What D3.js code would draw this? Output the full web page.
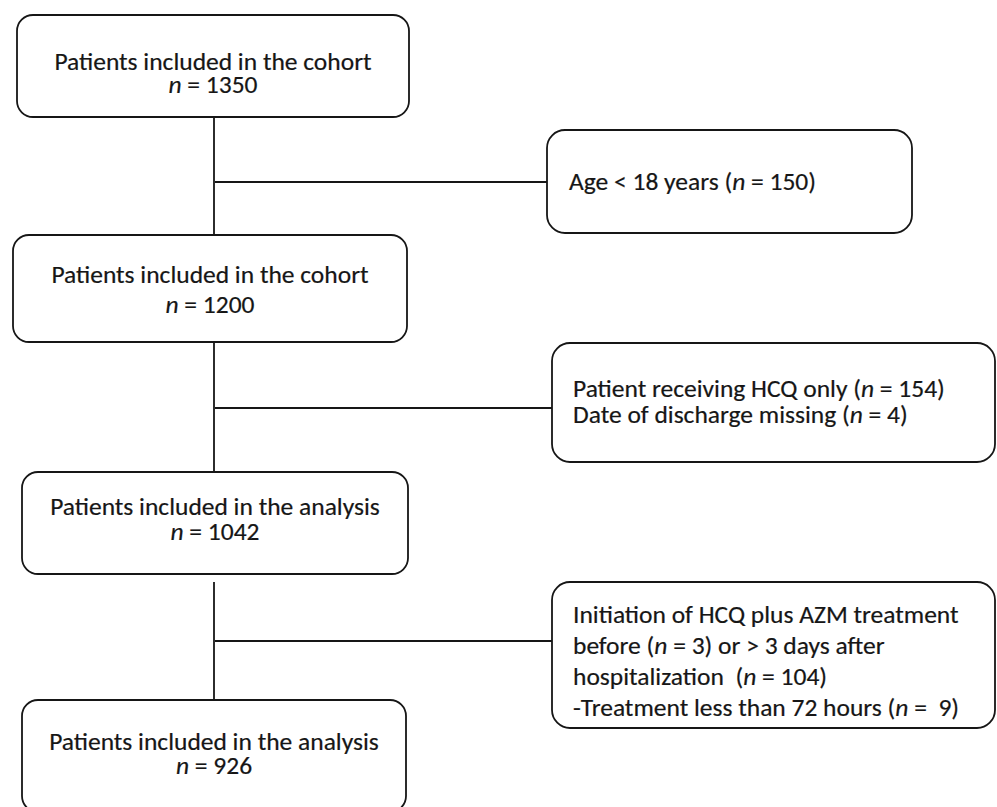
<!DOCTYPE html>
<html>
<head>
<meta charset="utf-8">
<script src="https://cdn.jsdelivr.net/npm/d3@7"></script>
<style>
  html, body { margin: 0; padding: 0; background: #ffffff; }
  svg text { white-space: pre; }
</style>
</head>
<body>
<svg id="chart" width="997" height="807"></svg>
<script>
// ---- data ----
const mainTitles = [
  "Patients included in the cohort",
  "Patients included in the cohort",
  "Patients included in the analysis",
  "Patients included in the analysis"
];
const mainCounts = [1350, 1200, 1042, 926];
const exclusionA = ["Age < 18 years (*n* = 150)"];
const exclusionB = ["Patient receiving HCQ only (*n* = 154)", "Date of discharge missing (*n* = 4)"];
const exclusionC = [
  "Initiation of HCQ plus AZM treatment",
  "before (*n* = 3) or > 3 days after",
  "hospitalization  (*n* = 104)",
  "-Treatment less than 72 hours (*n* =  9)"
];
const exclusions = [exclusionA, exclusionB, exclusionC];

// ---- layout (positions / sizes / styles) ----
const FONT = "Carlito, Calibri, Lato, 'Open Sans', sans-serif";
const FS = 25.5;
const INK = "#161616";
const mainLayout = [
  {x0: 17, x1: 409, y0: 15,  y1: 117, b1: 70,  b2: 93},
  {x0: 13, x1: 407, y0: 235, y1: 342, b1: 283, b2: 313},
  {x0: 22, x1: 408, y0: 472, y1: 574, b1: 515, b2: 540},
  {x0: 22, x1: 406, y0: 700, y1: 812, b1: 750, b2: 774}
];
const exLayout = [
  {x0: 547, x1: 912, y0: 130, y1: 233, tx: 569, base: 190, lh: 26, cy: 182},
  {x0: 552, x1: 995, y0: 343, y1: 462, tx: 573, base: 397, lh: 26, cy: 408},
  {x0: 552, x1: 995, y0: 582, y1: 728, tx: 573, base: 623, lh: 31, cy: 641}
];
const spineX = 214;

const svg = d3.select("#chart");
const g = svg.append("g");

// connectors
const vSegs = [
  {y0: mainLayout[0].y1, y1: mainLayout[1].y0},
  {y0: mainLayout[1].y1, y1: mainLayout[2].y0},
  {y0: mainLayout[2].y1 + 8, y1: mainLayout[3].y0}
];
g.selectAll("line.v").data(vSegs).join("line")
  .attr("class", "v")
  .attr("x1", spineX).attr("x2", spineX)
  .attr("y1", d => d.y0).attr("y2", d => d.y1)
  .attr("stroke", INK).attr("stroke-width", 1.8);

g.selectAll("line.h").data(exLayout).join("line")
  .attr("class", "h")
  .attr("x1", spineX + 1).attr("x2", d => d.x0)
  .attr("y1", d => d.cy).attr("y2", d => d.cy)
  .attr("stroke", INK).attr("stroke-width", 1.8);

// helper: one line (tspan) with *italic* segments
function richLine(textSel, str, x, y, anchor) {
  const line = textSel.append("tspan").attr("x", x).attr("y", y).attr("text-anchor", anchor);
  str.split("*").forEach((p, i) => {
    if (p === "") return;
    line.append("tspan").text(p).attr("font-style", i % 2 === 1 ? "italic" : "normal");
  });
}

function styledText(parent) {
  return parent.append("text")
    .attr("font-family", FONT).attr("font-size", FS).attr("fill", INK)
    .attr("stroke", INK).attr("stroke-width", 0.2);
}

// main boxes
const mains = mainTitles.map((t, i) => ({title: t, count: mainCounts[i], L: mainLayout[i]}));
const mg = g.selectAll("g.main").data(mains).join("g").attr("class", "main");
mg.append("rect")
  .attr("x", d => d.L.x0).attr("y", d => d.L.y0)
  .attr("width", d => d.L.x1 - d.L.x0).attr("height", d => d.L.y1 - d.L.y0)
  .attr("rx", 16).attr("ry", 16)
  .attr("fill", "#fff").attr("stroke", INK).attr("stroke-width", 1.8);
mg.each(function(d) {
  const cx = (d.L.x0 + d.L.x1) / 2;
  const t = styledText(d3.select(this)).attr("text-anchor", "middle");
  richLine(t, d.title, cx, d.L.b1, "middle");
  richLine(t, "*n* = " + d.count, cx, d.L.b2, "middle");
});

// exclusion boxes
const exs = exclusions.map((lines, i) => ({lines, L: exLayout[i]}));
const eg = g.selectAll("g.ex").data(exs).join("g").attr("class", "ex");
eg.append("rect")
  .attr("x", d => d.L.x0).attr("y", d => d.L.y0)
  .attr("width", d => d.L.x1 - d.L.x0).attr("height", d => d.L.y1 - d.L.y0)
  .attr("rx", 18).attr("ry", 18)
  .attr("fill", "#fff").attr("stroke", INK).attr("stroke-width", 1.8);
eg.each(function(d) {
  const t = styledText(d3.select(this));
  d.lines.forEach((ln, j) => richLine(t, ln, d.L.tx, d.L.base + j * d.L.lh, "start"));
});
</script>
</body>
</html>
